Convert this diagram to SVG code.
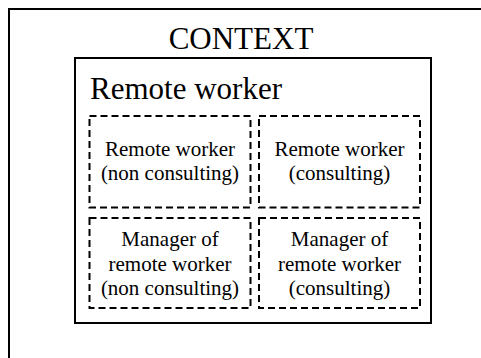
<svg xmlns="http://www.w3.org/2000/svg" width="481" height="358" viewBox="0 0 481 358">
<style>
.solid{fill:none;stroke:#000;stroke-width:2}
.dash{fill:none;stroke:#000;stroke-width:2;stroke-dasharray:7 4}
text{font-family:"Liberation Serif","Times New Roman",serif;fill:#000;text-anchor:middle}
.big{font-size:31px}
.small{font-size:21px}
</style>
<rect width="481" height="358" fill="#fff"/>
<g id="context">
<rect class="solid" x="9" y="9" width="490" height="370"/>
<text class="big" x="241" y="49">CONTEXT</text>
</g>
<g id="remote-worker">
<rect class="solid" x="75" y="58" width="356" height="265"/>
<text class="big" x="90" y="99" style="text-anchor:start">Remote worker</text>
</g>
<g id="rw-non-consulting">
<rect class="dash" x="89.5" y="116" width="161" height="91.5"/>
<text class="small" x="170" y="156">Remote worker</text>
<text class="small" x="170" y="180">(non consulting)</text>
</g>
<g id="rw-consulting">
<rect class="dash" x="259" y="116" width="161" height="91.5"/>
<text class="small" x="339.5" y="156">Remote worker</text>
<text class="small" x="339.5" y="180">(consulting)</text>
</g>
<g id="mgr-non-consulting">
<rect class="dash" x="89.5" y="218" width="161" height="90"/>
<text class="small" x="170" y="246">Manager of</text>
<text class="small" x="170" y="270.5">remote worker</text>
<text class="small" x="170" y="295">(non consulting)</text>
</g>
<g id="mgr-consulting">
<rect class="dash" x="259" y="218" width="161" height="90"/>
<text class="small" x="339.5" y="246">Manager of</text>
<text class="small" x="339.5" y="270.5">remote worker</text>
<text class="small" x="339.5" y="295">(consulting)</text>
</g>
<g id="connectors"></g>
</svg>
